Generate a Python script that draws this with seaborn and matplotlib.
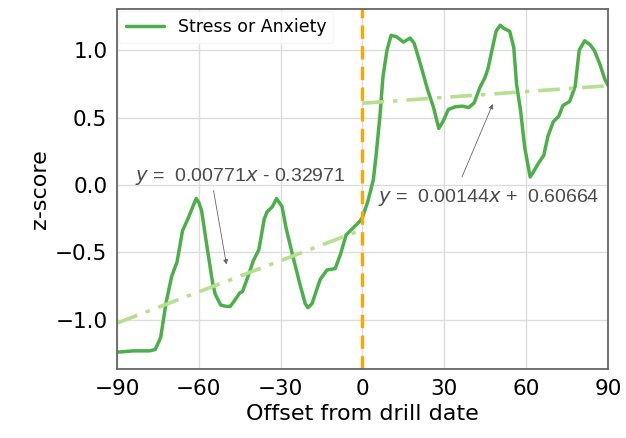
import numpy as np
import pandas as pd
import seaborn as sns
import matplotlib.pyplot as plt

# values
offset = [-90, -84, -78, -76, -74, -72, -70, -68, -66, -64, -62, -61, -60, -59,
          -57, -55, -54, -52, -50, -48.5, -47, -45, -44, -42, -40, -38, -36, -35,
          -33, -31.5, -29.5, -28, -25.5, -23, -21, -20, -18.5, -15.5, -13, -10,
          -8, -6, -3, -1, 0, 2, 4, 5, 6.5, 7.5, 9, 10.5, 12.5, 15, 17.5, 19,
          21.5, 24, 26, 28, 29.5, 31.5, 34, 36.5, 39, 41, 43, 45, 46, 47.5, 49,
          50.5, 52, 54, 55.5, 56.5, 58, 59.5, 61.5, 62.5, 64.5, 66.5, 68, 70, 72,
          73.5, 76, 78, 79.5, 81.5, 83.5, 85, 87, 89, 90]
zscore = [-1.24, -1.23, -1.23, -1.22, -1.13, -0.87, -0.68, -0.57, -0.34, -0.25,
          -0.15, -0.10, -0.13, -0.19, -0.46, -0.72, -0.81, -0.89, -0.90, -0.90,
          -0.86, -0.80, -0.79, -0.68, -0.56, -0.48, -0.25, -0.20, -0.16, -0.10,
          -0.16, -0.32, -0.53, -0.73, -0.88, -0.91, -0.88, -0.70, -0.63, -0.62,
          -0.51, -0.37, -0.31, -0.27, -0.24, -0.12, 0.04, 0.22, 0.53, 0.80, 1.0,
          1.11, 1.10, 1.06, 1.09, 1.05, 0.88, 0.70, 0.58, 0.42, 0.47, 0.56, 0.58,
          0.585, 0.575, 0.61, 0.72, 0.80, 0.86, 1.0, 1.14, 1.185, 1.16, 1.14,
          1.02, 0.75, 0.55, 0.28, 0.06, 0.09, 0.16, 0.22, 0.36, 0.47, 0.51, 0.59,
          0.62, 0.73, 1.0, 1.07, 1.04, 1.0, 0.90, 0.78, 0.74]

pre_slope, pre_icpt = 0.00771, -0.32971
post_slope, post_icpt = 0.00144, 0.60664

df = pd.DataFrame({"offset": offset, "z": zscore})

sns.set_style("whitegrid")
plt.rcParams["font.family"] = ["DejaVu Sans"]
plt.rcParams["text.color"] = "black"
plt.rcParams["axes.labelcolor"] = "black"
plt.rcParams["xtick.color"] = "black"
plt.rcParams["ytick.color"] = "black"

fig, ax = plt.subplots(figsize=(6.26, 4.38), dpi=100)
fig.subplots_adjust(left=0.187, right=0.971, top=0.979, bottom=0.158)

sns.lineplot(data=df, x="offset", y="z", ax=ax, color="#4daf4a", linewidth=2.5,
             label="Stress or Anxiety")

# linear fits before / after the drill
xs_pre = np.array([-90, 0])
xs_post = np.array([0, 90])
ax.plot(xs_pre, pre_slope * xs_pre + pre_icpt, color="#b5e08f", lw=2.6,
        ls=(0, (6, 2.5, 1.2, 2.5)))
ax.plot(xs_post, post_slope * xs_post + post_icpt, color="#b5e08f", lw=2.6,
        ls=(0, (6, 2.5, 1.2, 2.5)))

ax.axvline(0, color="#ffa500", lw=2.4, ls=(0, (4, 2.2)))

tcol = "#4a4a4a"
ax.text(-83.5, 0.065, r"$y$ =  0.00771$x$ - 0.32971", fontsize=14, color=tcol,
        va="center", family="Liberation Sans")
ax.annotate("", xy=(-49.7, -0.61), xytext=(-54.8, -0.02),
            arrowprops=dict(arrowstyle="-|>", color="#666666", lw=0.6,
                            mutation_scale=7))
ax.text(5.8, -0.09, r"$y$ =  0.00144$x$ +  0.60664", fontsize=14, color=tcol,
        va="center", family="Liberation Sans")
ax.annotate("", xy=(48.2, 0.62), xytext=(36.1, 0.04),
            arrowprops=dict(arrowstyle="-|>", color="#666666", lw=0.6,
                            mutation_scale=7))

ax.set_xlim(-90, 90)
ax.set_ylim(-1.363, 1.304)
ax.set_xticks([-90, -60, -30, 0, 30, 60, 90])
ax.set_yticks([-1.0, -0.5, 0.0, 0.5, 1.0])
ax.tick_params(labelsize=15.5)
ax.set_xlabel("Offset from drill date", fontsize=16)
ax.set_ylabel("z-score", fontsize=16)
for s in ax.spines.values():
    s.set_color("#666666")
    s.set_linewidth(1.3)
ax.grid(color="#dddddd", lw=1)

leg = ax.legend(loc="upper left", fontsize=12.5, borderaxespad=0.1,
                handlelength=2.2)
leg.get_frame().set_edgecolor("#f4f4f4")

plt.savefig("out.png", dpi=100)
